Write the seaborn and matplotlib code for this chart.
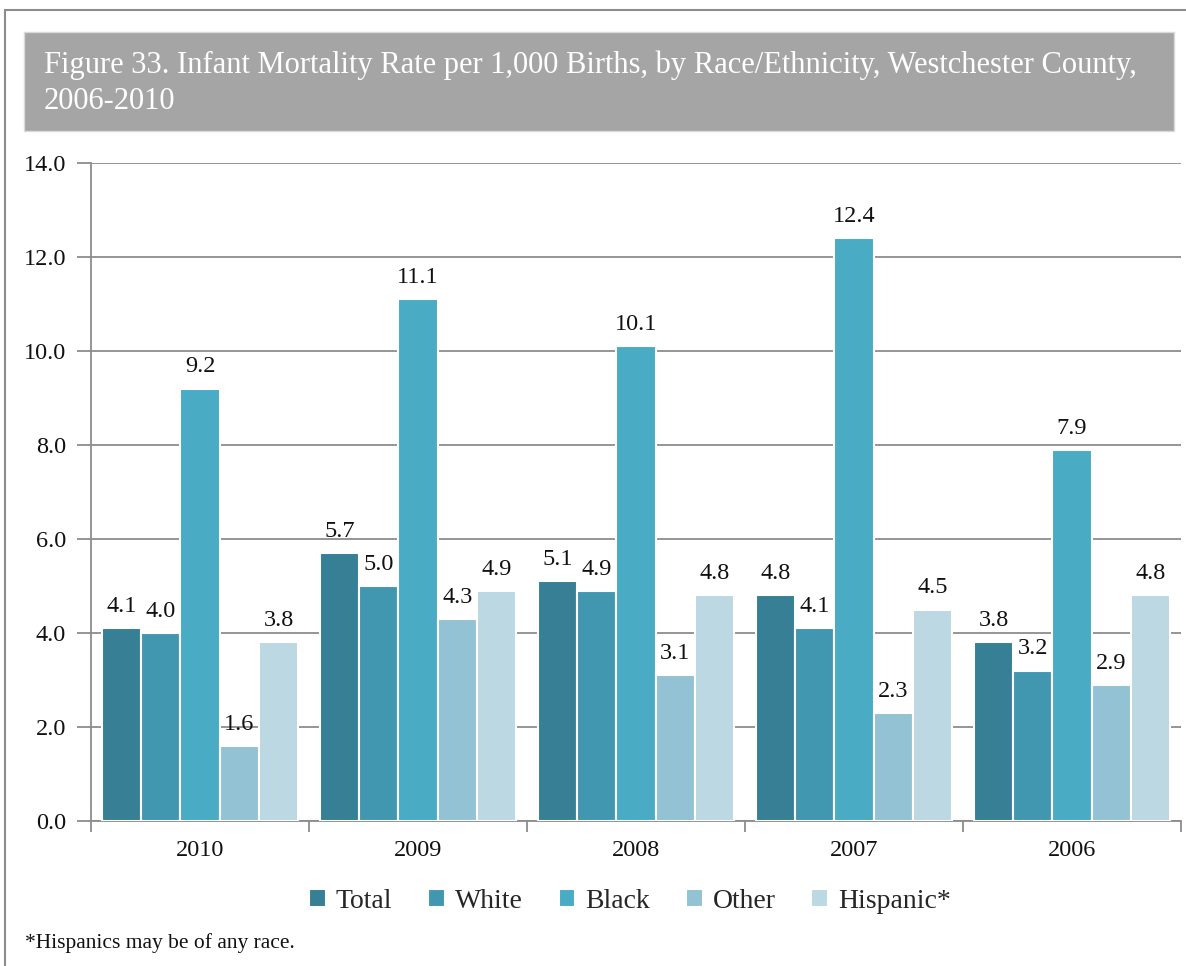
import matplotlib
matplotlib.use("Agg")
import matplotlib.pyplot as plt
from matplotlib.patches import Rectangle
import seaborn as sns
import pandas as pd

years = ["2010", "2009", "2008", "2007", "2006"]
groups = ["Total", "White", "Black", "Other", "Hispanic*"]
total = [4.1, 5.7, 5.1, 4.8, 3.8]
white = [4.0, 5.0, 4.9, 4.1, 3.2]
black = [9.2, 11.1, 10.1, 12.4, 7.9]
other = [1.6, 4.3, 3.1, 2.3, 2.9]
hispanic = [3.8, 4.9, 4.8, 4.5, 4.8]
yticks = [0, 2, 4, 6, 8, 10, 12, 14]
colors = ["#367f94", "#4297b0", "#4aabc5", "#93c2d4", "#bcd8e3"]

series = [total, white, black, other, hispanic]
rows = []
for g, vals in zip(groups, series):
    for y, v in zip(years, vals):
        rows.append({"Year": y, "Group": g, "Rate": v})
df = pd.DataFrame(rows)

sns.set_theme(style="white")
plt.rcParams["font.family"] = ["Liberation Serif", "DejaVu Serif"]

fig = plt.figure(figsize=(11.86, 9.66), dpi=100)
W, H = 1186, 966

# outer frame
fig.patches.append(Rectangle((5 / W, -0.1), 1.2, 1 - 10 / H + 0.1, transform=fig.transFigure,
                             fill=False, edgecolor="#8c8c8c", linewidth=1.5, zorder=0))
# title box
fig.patches.append(Rectangle((24 / W, 1 - 131 / H), (1174 - 24) / W, 99 / H,
                             transform=fig.transFigure, facecolor="#a5a5a5",
                             edgecolor="#d9d9d9", linewidth=1, zorder=1))
fig.text(44 / W, 1 - 51 / H,
         "Figure 33. Infant Mortality Rate per 1,000 Births, by Race/Ethnicity, Westchester County,\n2006-2010",
         color="white", fontsize=22, va="top", ha="left", linespacing=1.3)

ax = fig.add_axes([91 / W, 1 - 821 / H, (1181 - 91) / W, (821 - 163) / H])
sns.barplot(data=df, x="Year", y="Rate", hue="Group", order=years, hue_order=groups,
            palette=colors, width=0.9, gap=0, errorbar=None, ax=ax,
            edgecolor="white", linewidth=1.5, saturation=1, zorder=3)

for cont in ax.containers:
    ax.bar_label(cont, fmt="%.1f", padding=8, fontsize=17.5, color="#111111")

ax.set_ylim(0, 14)
ax.set_xlim(-0.5, 4.5)
ax.set_yticks(yticks)
ax.set_yticklabels([f"{t:.1f}" for t in yticks], fontsize=17.5, color="#111111")
ax.set_xticks(range(len(years)))
ax.set_xticklabels(years, fontsize=17.5, color="#111111")
ax.tick_params(axis="x", length=0, pad=14)
ax.tick_params(axis="y", length=10, width=1.3, color="#8c8c8c", pad=8, left=True)
ax.set_xticks([i + 0.5 for i in range(-1, 5)], minor=True)
ax.tick_params(axis="x", which="minor", length=8, width=1.3, color="#8c8c8c", bottom=True, direction="out")
ax.yaxis.grid(True, color="#8c8c8c", linewidth=1.3, zorder=0)
ax.set_axisbelow(True)
for s in ["top", "right"]:
    ax.spines[s].set_visible(False)
ax.spines["left"].set_color("#8c8c8c")
ax.spines["left"].set_linewidth(1.3)
ax.spines["bottom"].set_color("#8c8c8c")
ax.spines["bottom"].set_linewidth(1.3)
ax.set_xlabel("")
ax.set_ylabel("")

leg = ax.legend(loc="upper center", bbox_to_anchor=(0.5 - 6 / 1090, -0.065), ncol=5, frameon=False,
                fontsize=20, handlelength=0.6, handleheight=0.6, handletextpad=0.35,
                columnspacing=1.3)
for h in leg.legend_handles:
    h.set_edgecolor("white")

fig.text(25 / W, 1 - 943 / H, "*Hispanics may be of any race.", fontsize=15.5,
         color="#111111", va="center", ha="left")

fig.savefig("out.png", dpi=100)
